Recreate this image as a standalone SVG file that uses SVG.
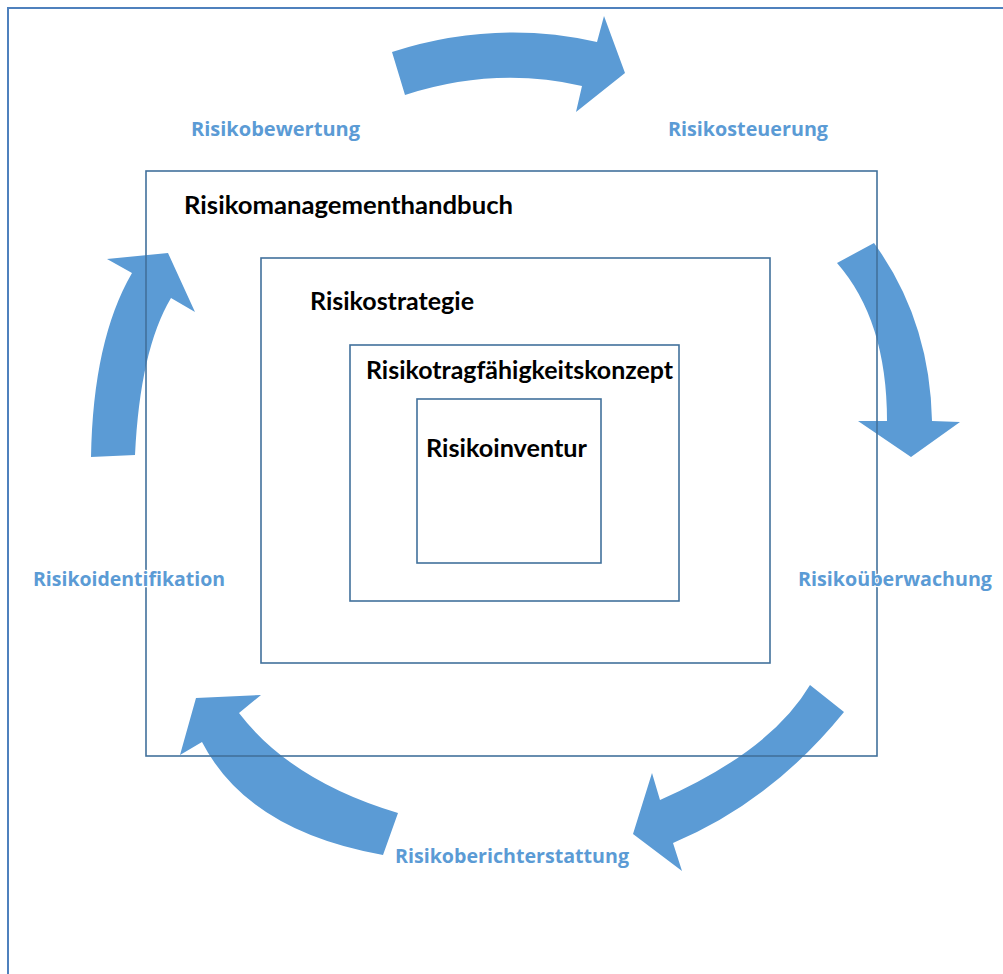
<svg xmlns="http://www.w3.org/2000/svg" width="1003" height="974" viewBox="0 0 1003 974">
<style>
.frame{fill:none;stroke:#4f81bd;stroke-width:2}
.box{fill:none;stroke:#41719c;stroke-width:1.6}
.arrow{fill:#5b9bd5;stroke:none}
.lbl{font-family:"Lato","Open Sans","Liberation Sans",sans-serif;font-weight:bold;font-size:25px;fill:#000}
.step{font-family:"Open Sans","Lato","Liberation Sans",sans-serif;font-weight:bold;font-size:19px;fill:#5b9bd5;stroke:#ffffff;stroke-width:2.5px;paint-order:stroke;stroke-linejoin:round}
</style>
<rect width="1003" height="974" fill="#ffffff"/>
<g id="frame">
<path class="frame" d="M8,974 L8,8 L1003,8"/>
</g>
<g id="connectors">
<path class="arrow" d="M392,52 Q495,19 597,42 L604,16 L625,73 L576,112 L582,86 Q495,66 405,95 Z"/>
<path class="arrow" d="M874,243 Q930,320 932,421 L960,422 L911,457 L858,421 L887,421 Q887,320 837,263 Z"/>
<path class="arrow" d="M810,685 Q771,751 660,800 L652,773 L633,834 L682,871 L673,843 Q771,802 844,712 Z"/>
<path class="arrow" d="M398,813 Q291,781 239,713 L261,695 L196,698 L180,755 L202,742 Q248,831 383,855 Z"/>
<path class="arrow" d="M91,457 Q93,340 132,273 L107,259 L168,253 L195,312 L171,298 Q140,350 135,455 Z"/>
</g>
<g id="box-handbuch">
<rect class="box" x="146" y="171" width="731" height="585"/>
<text class="lbl" x="184" y="214" textLength="329" lengthAdjust="spacingAndGlyphs">Risikomanagementhandbuch</text>
</g>
<g id="box-strategie">
<rect class="box" x="261" y="258" width="509" height="405"/>
<text class="lbl" x="310" y="310" textLength="164" lengthAdjust="spacingAndGlyphs">Risikostrategie</text>
</g>
<g id="box-rtk">
<rect class="box" x="350" y="345" width="329" height="256"/>
<text class="lbl" x="366" y="379" textLength="307" lengthAdjust="spacingAndGlyphs">Risikotragfähigkeitskonzept</text>
</g>
<g id="box-inventur">
<rect class="box" x="417" y="399" width="184" height="164"/>
<text class="lbl" x="426" y="457" textLength="161" lengthAdjust="spacingAndGlyphs">Risikoinventur</text>
</g>
<g id="step-bewertung"><text class="step" x="191" y="136" textLength="169" lengthAdjust="spacingAndGlyphs">Risikobewertung</text></g>
<g id="step-steuerung"><text class="step" x="668" y="136" textLength="160" lengthAdjust="spacingAndGlyphs">Risikosteuerung</text></g>
<g id="step-ueberwachung"><text class="step" x="798" y="586" textLength="194" lengthAdjust="spacingAndGlyphs">Risikoüberwachung</text></g>
<g id="step-bericht"><text class="step" x="395" y="863" textLength="234" lengthAdjust="spacingAndGlyphs">Risikoberichterstattung</text></g>
<g id="step-identifikation"><text class="step" x="33" y="586" textLength="192" lengthAdjust="spacingAndGlyphs">Risikoidentifikation</text></g>
</svg>
